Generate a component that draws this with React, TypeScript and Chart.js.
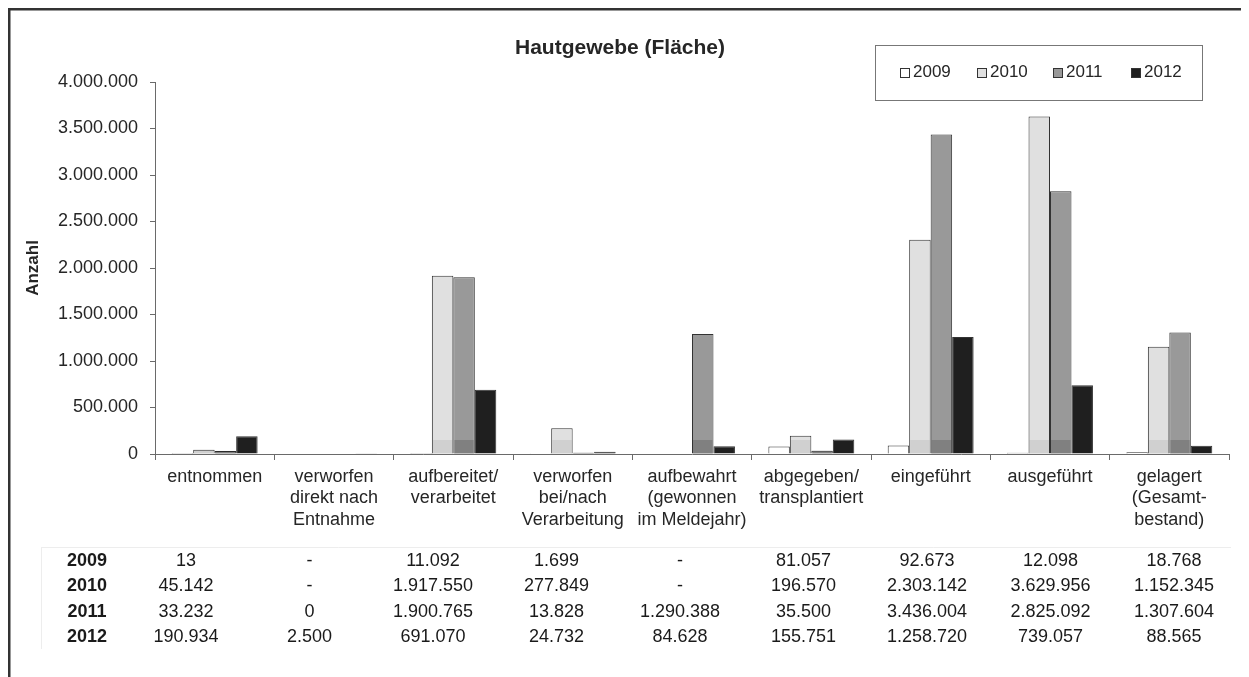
import React, { useEffect, useRef } from "react";
import { Chart, registerables } from "chart.js";

Chart.register(...registerables);

const categories: string[][] = [
  ["entnommen"],
  ["verworfen", "direkt nach", "Entnahme"],
  ["aufbereitet/", "verarbeitet"],
  ["verworfen", "bei/nach", "Verarbeitung"],
  ["aufbewahrt", "(gewonnen", "im Meldejahr)"],
  ["abgegeben/", "transplantiert"],
  ["eingeführt"],
  ["ausgeführt"],
  ["gelagert", "(Gesamt-", "bestand)"],
];

const years = ["2009", "2010", "2011", "2012"];

const values2009: (number | null)[] = [13, null, 11092, 1699, null, 81057, 92673, 12098, 18768];
const values2010: (number | null)[] = [45142, null, 1917550, 277849, null, 196570, 2303142, 3629956, 1152345];
const values2011: (number | null)[] = [33232, 0, 1900765, 13828, 1290388, 35500, 3436004, 2825092, 1307604];
const values2012: (number | null)[] = [190934, 2500, 691070, 24732, 84628, 155751, 1258720, 739057, 88565];

const seriesValues = [values2009, values2010, values2011, values2012];
const seriesColors = ["#ffffff", "#e0e0e0", "#999999", "#1f1f1f"];
const bandAlpha = [0, 0.07, 0.16, 0];

const title = "Hautgewebe (Fläche)";
const yTitle = "Anzahl";
const yMin = 0;
const yMax = 4000000;
const yStep = 500000;

const FONT = "'Liberation Sans', Arial, Helvetica, sans-serif";
const TEXT = "#262626";

function fmt(v: number | null): string {
  if (v === null || v === undefined) return "-";
  return String(Math.round(v)).replace(/\B(?=(\d{3})+(?!\d))/g, ".");
}

const decorPlugin = {
  id: "decor",
  beforeDraw(chart: any) {
    const { ctx, width, height } = chart;
    ctx.save();
    ctx.fillStyle = "#ffffff";
    ctx.fillRect(0, 0, width, height);
    ctx.restore();
  },
  afterDatasetsDraw(chart: any) {
    const { ctx } = chart;
    const yScale = chart.scales.y;
    const base = yScale.getPixelForValue(0);
    ctx.save();
    chart.data.datasets.forEach((ds: any, i: number) => {
      const a = bandAlpha[i];
      if (!a) return;
      const meta = chart.getDatasetMeta(i);
      meta.data.forEach((bar: any) => {
        if (bar.y == null || isNaN(bar.y)) return;
        const top = Math.max(bar.y, base - 14);
        if (base - top <= 0) return;
        ctx.fillStyle = `rgba(0,0,0,${a})`;
        ctx.fillRect(bar.x - bar.width / 2 + 1, top, bar.width - 2, base - top);
      });
    });
    ctx.restore();
  },
  afterDraw(chart: any) {
    const { ctx, chartArea } = chart;
    ctx.save();

    // outer frame (top and left edges visible)
    ctx.fillStyle = "#333333";
    ctx.fillRect(0, 0, chart.width, 2.5);
    ctx.fillRect(0, 0, 2.5, chart.height);

    // title
    ctx.fillStyle = TEXT;
    ctx.font = `bold 21px ${FONT}`;
    ctx.textAlign = "center";
    ctx.textBaseline = "middle";
    ctx.fillText(title, 612, 40);

    // y axis title
    ctx.save();
    ctx.translate(25, (chartArea.top + chartArea.bottom) / 2);
    ctx.rotate(-Math.PI / 2);
    ctx.font = `bold 17px ${FONT}`;
    ctx.fillText(yTitle, 0, 0);
    ctx.restore();

    // legend box
    ctx.strokeStyle = "#777777";
    ctx.lineWidth = 1;
    ctx.strokeRect(867.5, 37.5, 327, 55);
    const legendX = [892, 969, 1045, 1123];
    ctx.font = `17px ${FONT}`;
    ctx.textAlign = "left";
    chart.data.datasets.forEach((ds: any, i: number) => {
      const x = legendX[i];
      ctx.fillStyle = ds.backgroundColor;
      ctx.fillRect(x, 60, 9, 9);
      ctx.strokeStyle = "#333333";
      ctx.strokeRect(x + 0.5, 60.5, 9, 9);
      ctx.fillStyle = TEXT;
      ctx.fillText(ds.label, x + 13, 64.5);
    });

    // data table
    const rowY = [553, 578.5, 604, 629.5];
    const colLeft = 178;
    const colRight = 1166;
    const n = chart.data.labels.length;
    const step = (colRight - colLeft) / (n - 1);

    ctx.strokeStyle = "#ededed";
    ctx.lineWidth = 1;
    ctx.beginPath();
    ctx.moveTo(33, 539.5);
    ctx.lineTo(1223, 539.5);
    ctx.moveTo(33.5, 539.5);
    ctx.lineTo(33.5, 641);
    ctx.stroke();

    chart.data.datasets.forEach((ds: any, r: number) => {
      const y = rowY[r];
      ctx.textAlign = "center";
      ctx.fillStyle = "#1a1a1a";
      ctx.font = `bold 18px ${FONT}`;
      ctx.fillText(ds.label, 79, y);
      ctx.font = `18px ${FONT}`;
      ds.data.forEach((v: number | null, c: number) => {
        ctx.fillText(fmt(v), colLeft + c * step, y);
      });
    });

    ctx.restore();
  },
};

export default function App() {
  const canvasRef = useRef<HTMLCanvasElement | null>(null);

  useEffect(() => {
    if (!canvasRef.current) return;
    const chart = new Chart(canvasRef.current, {
      type: "bar",
      data: {
        labels: categories,
        datasets: years.map((y, i) => ({
          label: y,
          data: seriesValues[i],
          backgroundColor: seriesColors[i],
          borderColor: "#333333",
          borderWidth: 1,
          categoryPercentage: 0.72,
          barPercentage: 1.0,
        })),
      },
      options: {
        responsive: false,
        animation: false,
        devicePixelRatio: 1,
        layout: { padding: { top: 74, right: 20, bottom: 0, left: 0 } },
        plugins: {
          legend: { display: false },
          title: { display: false },
          tooltip: { enabled: false },
        },
        scales: {
          x: {
            offset: true,
            grid: {
              offset: true,
              drawOnChartArea: false,
              drawTicks: true,
              tickLength: 6,
              color: "#6a6a6a",
            },
            border: { display: true, color: "#6a6a6a", width: 1 },
            ticks: {
              autoSkip: false,
              maxRotation: 0,
              minRotation: 0,
              padding: 6,
              color: TEXT,
              font: { family: FONT, size: 18, lineHeight: 1.2 },
            },
            afterFit(scale: any) {
              scale.height = 223;
            },
          },
          y: {
            min: yMin,
            max: yMax,
            grid: {
              drawOnChartArea: false,
              drawTicks: true,
              tickLength: 5,
              color: "#6a6a6a",
            },
            border: { display: true, color: "#6a6a6a", width: 1 },
            ticks: {
              stepSize: yStep,
              padding: 12,
              color: TEXT,
              font: { family: FONT, size: 18 },
              callback: (v: any) => fmt(Number(v)),
            },
            afterFit(scale: any) {
              scale.width = 147;
            },
          },
        },
      },
      plugins: [decorPlugin],
    });
    return () => chart.destroy();
  }, []);

  return (
    <div style={{ width: 1241, height: 669, position: "relative" }}>
      <canvas ref={canvasRef} width={1241} height={669} style={{ display: "block" }} />
    </div>
  );
}
